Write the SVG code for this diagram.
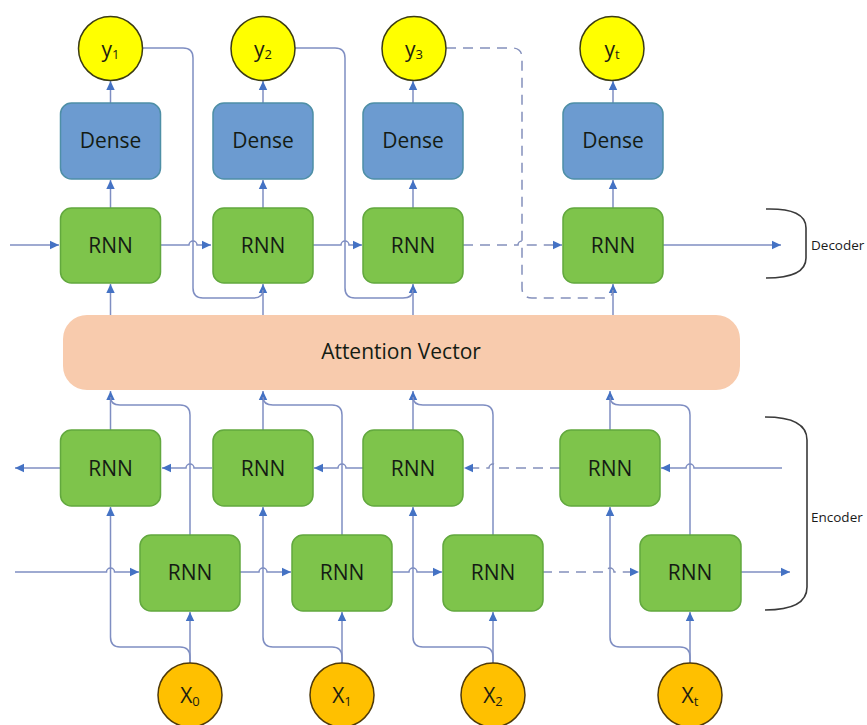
<svg xmlns="http://www.w3.org/2000/svg" width="867" height="725" viewBox="0 0 867 725">
<defs>
<marker id="arr" markerUnits="userSpaceOnUse" markerWidth="10" markerHeight="10" refX="9" refY="5" orient="auto">
<path d="M0,0.8 L9,5 L0,9.2 z" fill="#4472C4"/>
</marker>
<style>
.rnn{fill:#7EC44B;stroke:#62A83E;stroke-width:1.5}
.dense{fill:#6C9BD0;stroke:#4E8FA6;stroke-width:1.5}
.yc{fill:#FFFF00;stroke:#3C3C14;stroke-width:1.5}
.xc{fill:#FFC000;stroke:#4F3A0A;stroke-width:1.5}
.att{fill:#F8CBAD}
.lbl{font-family:"Open Sans","Liberation Sans",sans-serif;font-size:21px;fill:#141C14;text-anchor:middle}
.circ{font-family:"Open Sans","Liberation Sans",sans-serif;font-size:21px;fill:#1E1E10;text-anchor:middle}
.side{font-family:"Open Sans","Liberation Sans",sans-serif;font-size:13.5px;fill:#1A1A1A}
.ln{fill:none;stroke:#7F8EC2;stroke-width:1.5}
.la{fill:none;stroke:#7F8EC2;stroke-width:1.5;marker-end:url(#arr)}
.dash{stroke-dasharray:10,7;stroke:#8490BC}
.br{fill:none;stroke:#3A3A3A;stroke-width:1.6}
</style>
</defs>
<rect width="867" height="725" fill="#FFFFFF"/>

<g id="connectors">
<!-- decoder vertical arrows -->
<path class="la" d="M110.5,103 V81"/>
<path class="la" d="M263,103 V81"/>
<path class="la" d="M413,103 V81"/>
<path class="la" d="M613,103 V81"/>
<path class="la" d="M110.5,208 V180"/>
<path class="la" d="M263,208 V180"/>
<path class="la" d="M413,208 V180"/>
<path class="la" d="M613,208 V180"/>
<path class="la" d="M110.5,315 V284"/>
<path class="la" d="M263,315 V284"/>
<path class="la" d="M413,315 V284"/>
<path class="la" d="M613,315 V284"/>
<!-- feedback -->
<path class="ln" d="M142,48 H183 Q193,48 193,58 V288 Q193,298 203,298 H253 Q263,298 263,290"/>
<path class="ln" d="M295,48 H335 Q345,48 345,58 V288 Q345,298 355,298 H403 Q413,298 413,290"/>
<path class="ln dash" d="M446,48 H512 Q522,48 522,58 V288 Q522,298 532,298 H603 Q613,298 613,290"/>
<!-- decoder horizontals -->
<path class="la" d="M10,245 H59"/>
<path class="la" d="M161,245 H189 A4,4 0 0 1 197,245 H211"/>
<path class="la" d="M313,245 H341 A4,4 0 0 1 349,245 H362"/>
<path class="la dash" d="M463,245 H518 A4,4 0 0 1 526,245 H562"/>
<path class="la" d="M663,245 H781"/>

<!-- encoder top RNN to attention -->
<path class="la" d="M110.5,430 V391"/>
<path class="la" d="M263,430 V391"/>
<path class="la" d="M413,430 V391"/>
<path class="la" d="M610,430 V391"/>
<!-- bottom RNN up to attention merge -->
<path class="ln" d="M190,535 V415 Q190,405 180,405 H120 Q110.5,405 110.5,397"/>
<path class="ln" d="M342,535 V415 Q342,405 332,405 H273 Q263,405 263,397"/>
<path class="ln" d="M493,535 V415 Q493,405 483,405 H423 Q413,405 413,397"/>
<path class="ln" d="M690,535 V415 Q690,405 680,405 H620 Q610,405 610,397"/>
<!-- X to bottom RNN -->
<path class="la" d="M190,663 V612"/>
<path class="la" d="M342,663 V612"/>
<path class="la" d="M493,663 V612"/>
<path class="la" d="M690,663 V612"/>
<!-- X branch to top RNN -->
<path class="la" d="M190,663 V657 Q190,647 180,647 H120 Q110.5,647 110.5,637 V507"/>
<path class="la" d="M342,663 V657 Q342,647 332,647 H273 Q263,647 263,637 V507"/>
<path class="la" d="M493,663 V657 Q493,647 483,647 H423 Q413,647 413,637 V507"/>
<path class="la" d="M690,663 V657 Q690,647 680,647 H620 Q610,647 610,637 V507"/>
<!-- top row leftwards -->
<path class="la" d="M60,468 H15"/>
<path class="la" d="M212,468 H194 A4,4 0 0 0 186,468 H162"/>
<path class="la" d="M363,468 H346 A4,4 0 0 0 338,468 H314"/>
<path class="la dash" d="M560,468 H497 A4,4 0 0 0 489,468 H464"/>
<path class="la" d="M782,468 H694 A4,4 0 0 0 686,468 H661"/>
<!-- bottom row rightwards -->
<path class="la" d="M15,572 H106.5 A4,4 0 0 1 114.5,572 H139"/>
<path class="la" d="M240,572 H259 A4,4 0 0 1 267,572 H291"/>
<path class="la" d="M392,572 H409 A4,4 0 0 1 417,572 H442"/>
<path class="la dash" d="M542,572 H606 A4,4 0 0 1 614,572 H639"/>
<path class="la" d="M741,572 H790"/>
</g>

<g id="decoder-bracket">
<path class="br" d="M766,209 Q806,208 806,228 V258 Q806,278 766,278"/>
<text class="side" x="811" y="250">Decoder</text>
</g>
<g id="encoder-bracket">
<path class="br" d="M765,417 Q807,417 807,440 V587 Q807,610 765,610"/>
<text class="side" x="811" y="522">Encoder</text>
</g>

<g id="y1"><circle class="yc" cx="110.5" cy="48.5" r="32"/><text class="circ" x="110.5" y="57">y<tspan font-size="13" dy="2">1</tspan></text></g>
<g id="y2"><circle class="yc" cx="263" cy="48.5" r="32"/><text class="circ" x="263" y="57">y<tspan font-size="13" dy="2">2</tspan></text></g>
<g id="y3"><circle class="yc" cx="414" cy="48.5" r="32"/><text class="circ" x="414" y="57">y<tspan font-size="13" dy="2">3</tspan></text></g>
<g id="yt"><circle class="yc" cx="612" cy="48.5" r="32"/><text class="circ" x="612" y="57">y<tspan font-size="13" dy="2">t</tspan></text></g>

<g id="dense1"><rect class="dense" x="60.5" y="103" width="100" height="76" rx="11"/><text class="lbl" x="110.5" y="148">Dense</text></g>
<g id="dense2"><rect class="dense" x="213" y="103" width="100" height="76" rx="11"/><text class="lbl" x="263" y="148">Dense</text></g>
<g id="dense3"><rect class="dense" x="363" y="103" width="100" height="76" rx="11"/><text class="lbl" x="413" y="148">Dense</text></g>
<g id="dense4"><rect class="dense" x="563" y="103" width="100" height="76" rx="11"/><text class="lbl" x="613" y="148">Dense</text></g>

<g id="dec-rnn1"><rect class="rnn" x="60.5" y="208" width="100" height="75" rx="11"/><text class="lbl" x="110.5" y="253">RNN</text></g>
<g id="dec-rnn2"><rect class="rnn" x="213" y="208" width="100" height="75" rx="11"/><text class="lbl" x="263" y="253">RNN</text></g>
<g id="dec-rnn3"><rect class="rnn" x="363" y="208" width="100" height="75" rx="11"/><text class="lbl" x="413" y="253">RNN</text></g>
<g id="dec-rnn4"><rect class="rnn" x="563" y="208" width="100" height="75" rx="11"/><text class="lbl" x="613" y="253">RNN</text></g>

<g id="attention"><rect class="att" x="63" y="315" width="677" height="75" rx="24"/><text class="lbl" x="401" y="359" font-size="21.5">Attention Vector</text></g>

<g id="enc-top1"><rect class="rnn" x="60.5" y="430" width="100" height="76" rx="11"/><text class="lbl" x="110.5" y="476">RNN</text></g>
<g id="enc-top2"><rect class="rnn" x="213" y="430" width="100" height="76" rx="11"/><text class="lbl" x="263" y="476">RNN</text></g>
<g id="enc-top3"><rect class="rnn" x="363" y="430" width="100" height="76" rx="11"/><text class="lbl" x="413" y="476">RNN</text></g>
<g id="enc-top4"><rect class="rnn" x="560" y="430" width="100" height="76" rx="11"/><text class="lbl" x="610" y="476">RNN</text></g>

<g id="enc-bot1"><rect class="rnn" x="140" y="535" width="100" height="76" rx="11"/><text class="lbl" x="190" y="580">RNN</text></g>
<g id="enc-bot2"><rect class="rnn" x="292" y="535" width="100" height="76" rx="11"/><text class="lbl" x="342" y="580">RNN</text></g>
<g id="enc-bot3"><rect class="rnn" x="443" y="535" width="100" height="76" rx="11"/><text class="lbl" x="493" y="580">RNN</text></g>
<g id="enc-bot4"><rect class="rnn" x="640" y="535" width="101" height="76" rx="11"/><text class="lbl" x="690" y="580">RNN</text></g>

<g id="x0"><circle class="xc" cx="190" cy="695" r="32"/><text class="circ" x="190" y="703">X<tspan font-size="13" dy="3">0</tspan></text></g>
<g id="x1"><circle class="xc" cx="342" cy="695" r="32"/><text class="circ" x="342" y="703">X<tspan font-size="13" dy="3">1</tspan></text></g>
<g id="x2"><circle class="xc" cx="493" cy="695" r="32"/><text class="circ" x="493" y="703">X<tspan font-size="13" dy="3">2</tspan></text></g>
<g id="xt"><circle class="xc" cx="690" cy="695" r="32"/><text class="circ" x="690" y="703">X<tspan font-size="13" dy="3">t</tspan></text></g>
</svg>
